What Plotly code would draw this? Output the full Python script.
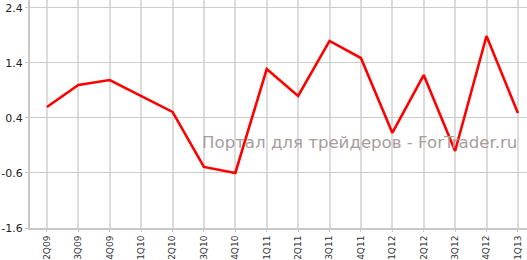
import plotly.graph_objects as go

categories = ["2Q09", "3Q09", "4Q09", "1Q10", "2Q10", "3Q10", "4Q10", "1Q11",
              "2Q11", "3Q11", "4Q11", "1Q12", "2Q12", "3Q12", "4Q12", "1Q13"]
values = [0.6, 1.0, 1.09, 0.8, 0.51, -0.49, -0.6, 1.29,
          0.8, 1.8, 1.49, 0.13, 1.18, -0.2, 1.89, 0.49]
y_ticks = [-1.6, -0.6, 0.4, 1.4, 2.4]
watermark = "Портал для трейдеров - ForTrader.ru"

fig = go.Figure()
fig.add_trace(go.Scatter(x=list(range(len(categories))), y=values, mode="lines",
                         line=dict(color="#ff0000", width=2.6), hoverinfo="skip"))

fig.add_annotation(text=watermark, xref="paper", yref="paper", x=0.984, y=0.375,
                   xanchor="right", yanchor="middle", showarrow=False,
                   font=dict(family="DejaVu Sans", size=16.6, color="#a89c9c"))

fig.update_layout(
    width=527, height=260,
    margin=dict(l=30, r=0, t=0, b=32, autoexpand=False),
    paper_bgcolor="white", plot_bgcolor="white",
    showlegend=False,
    font=dict(family="DejaVu Sans", color="#222222"),
)
fig.update_xaxes(
    range=[-0.54, 15.29], automargin=False,
    tickmode="array", tickvals=list(range(len(categories))), ticktext=categories,
    tickangle=-90, tickfont=dict(size=9, color="#333333"),
    showgrid=True, gridcolor="#dcdcdc", gridwidth=2,
    showline=True, linecolor="#c8c8c8", linewidth=2,
    ticks="outside", ticklen=2, tickcolor="#c8c8c8",
    zeroline=False,
)
fig.update_yaxes(
    range=[-1.6, 2.545], automargin=False,
    tickmode="array", tickvals=y_ticks, ticktext=[str(v) for v in y_ticks],
    tickfont=dict(size=11, color="#222222"),
    showgrid=True, gridcolor="#cccccc", gridwidth=1,
    showline=True, linecolor="#c8c8c8", linewidth=2,
    ticks="outside", ticklen=3, tickcolor="#c8c8c8",
    zeroline=False,
)

fig.write_html("out.html")
